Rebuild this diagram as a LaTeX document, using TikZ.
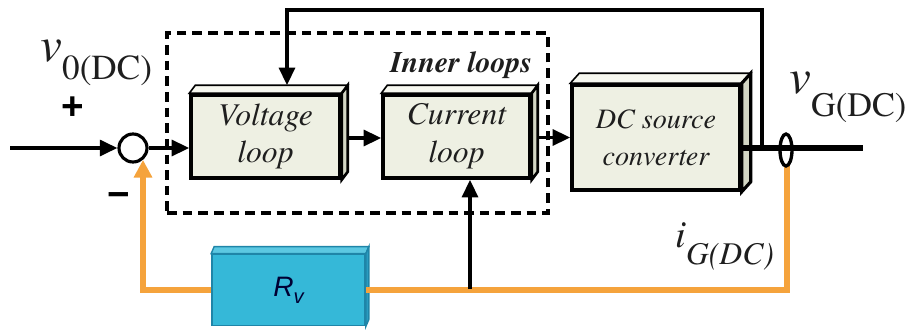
\documentclass[tikz,border=0pt]{standalone}
\usepackage{fontspec}
\setmainfont{TeX Gyre Termes}
\newfontfamily\labelsans{Liberation Sans}
\usetikzlibrary{arrows.meta,calc,backgrounds,shapes.geometric}

\definecolor{slab}{HTML}{EEF0E3}
\definecolor{slabtop}{HTML}{F7F8F0}
\definecolor{slabside}{HTML}{D3D6C4}
\definecolor{gain}{HTML}{35B8D8}
\definecolor{gaintop}{HTML}{5CC8E2}
\definecolor{gainside}{HTML}{2A9CC0}
\definecolor{gainedge}{HTML}{1F85A8}
\definecolor{sense}{HTML}{F5A33C}
\definecolor{ink}{HTML}{1E1E1E}

% top and right faces that give a block its depth
\newcommand\blockdepth[5]{%
  \draw[#4] (#1.north west) -- ++(#2,-#3) -- ($(#1.north east)+(#2,-#3)$) -- (#1.north east) -- cycle;
  \draw[#5] (#1.north east) -- ++(#2,-#3) -- ($(#1.south east)+(#2,-#3)$) -- (#1.south east) -- cycle;
}

\begin{document}
\begin{tikzpicture}[x=0.02cm,y=-0.02cm,
  wire/.style={line width=2pt},
  sig/.style={wire,-{Triangle[length=10pt,width=9pt]}},
  fb/.style={line width=2.9pt,color=sense},
  slabbox/.style={draw,line width=2pt,fill=slab,inner sep=0pt,align=center,
    text=ink,font=\fontsize{18}{21.5}\selectfont\itshape},
  gainbox/.style={draw=gainedge,line width=1pt,fill=gain,inner sep=0pt,
    text=black!80!blue},
  sign/.style={font=\labelsans\bfseries\fontsize{22}{22}\selectfont,inner sep=0pt},
  lbl/.style={inner sep=0pt,anchor=base west,text=ink}
]
\useasboundingbox (0,0) rectangle (915,331);

% inner control loops frame
\node[draw,line width=1.8pt,dash pattern=on 5.5pt off 3.4pt,minimum width=7.62cm,
  minimum height=3.6cm,inner sep=0pt] (inner) at (357.5,123) {};
\node[lbl,font=\fontsize{17}{17}\selectfont\bfseries\itshape] (innerlbl) at (390,72) {Inner loops};

% blocks
\node[slabbox,minimum width=2.98cm,minimum height=1.66cm] (volt) at (265.5,136.5) {Voltage\\loop};
\node[slabbox,minimum width=2.94cm,minimum height=1.66cm] (curr) at (456.5,136.5) {Current\\loop};
\node[slabbox,minimum width=3.36cm,minimum height=2.1cm,
  font=\fontsize{16}{21}\selectfont\itshape] (conv) at (656,137.5) {DC source\\converter};
\node[gainbox,minimum width=3.06cm,minimum height=1.42cm] (rv) at (288.5,290)
  {\labelsans\itshape\fontsize{16}{16}\selectfont R\raisebox{-4pt}{\fontsize{11.5}{11.5}\selectfont v}};

\begin{pgfonlayer}{background}
  \blockdepth{volt}{6}{8}{fill=slabtop,draw,line width=0.9pt}{fill=slabside,draw,line width=1.5pt}
  \blockdepth{curr}{6}{8}{fill=slabtop,draw,line width=0.9pt}{fill=slabside,draw,line width=1.5pt}
  \blockdepth{conv}{9}{10}{fill=slabtop,draw,line width=0.9pt}{fill=slabside,draw,line width=1.8pt}
  \blockdepth{rv}{3}{7}{fill=gaintop,draw=gainedge,line width=0.8pt}{fill=gainside,draw=gainedge,line width=0.8pt}
\end{pgfonlayer}

% summing junction and current sensor
\node[circle,draw,line width=1.8pt,minimum size=0.56cm,inner sep=0pt,fill=white] (sum) at (133,148) {};
\coordinate (in) at (10,148);
\coordinate (tap) at (762,148);
\coordinate (out) at (863,148);
\coordinate (ftop) at (287,10);
\coordinate (jn) at (470,289);

% output bus and voltage feedback
\draw[line width=3pt] (conv.east |- out) -- (out);
\draw[sig] (tap) |- (ftop) -- ($(ftop |- volt.north)+(0,-8)$);

% forward path
\draw[sig] (in) -- (sum.west);
\draw[sig] (sum.east) -- (sum.east -| volt.west);
\draw[sig] ($(volt.east)+(6,1.5)$) -- ($(curr.west)+(0,1.5)$);
\draw[sig] ($(curr.east)+(6,1)$) -- (conv.west);

% current feedback through the virtual resistance
\draw[fb] (787,166) |- (rv.east);
\draw[fb,-{Triangle[length=10pt,width=10pt]}] (rv.west) -| (sum.-50);
\draw[sig] (jn) -- (jn |- curr.south);

\node[ellipse,draw,line width=1.9pt,minimum width=0.24cm,minimum height=0.64cm,inner sep=0pt] (sensor) at (786,150) {};

% signs and signal labels
\node[sign] (plus) at (73,108) {+};
\node[sign] (minus) at (119,200) {−};
\node[lbl] (v0) at (40,62) {{\fontsize{28}{28}\selectfont\itshape v}\raisebox{-10pt}{\fontsize{20}{20}\selectfont 0(DC)}};
\node[lbl] (vg) at (789,93) {{\fontsize{28}{28}\selectfont\itshape v}\raisebox{-13.5pt}{\fontsize{19.5}{19.5}\selectfont G(DC)}};
\node[lbl] (ig) at (675,247) {{\fontsize{22}{22}\selectfont\itshape i}\raisebox{-10pt}{\fontsize{18}{18}\selectfont\itshape G(DC)}};
\end{tikzpicture}
\end{document}
